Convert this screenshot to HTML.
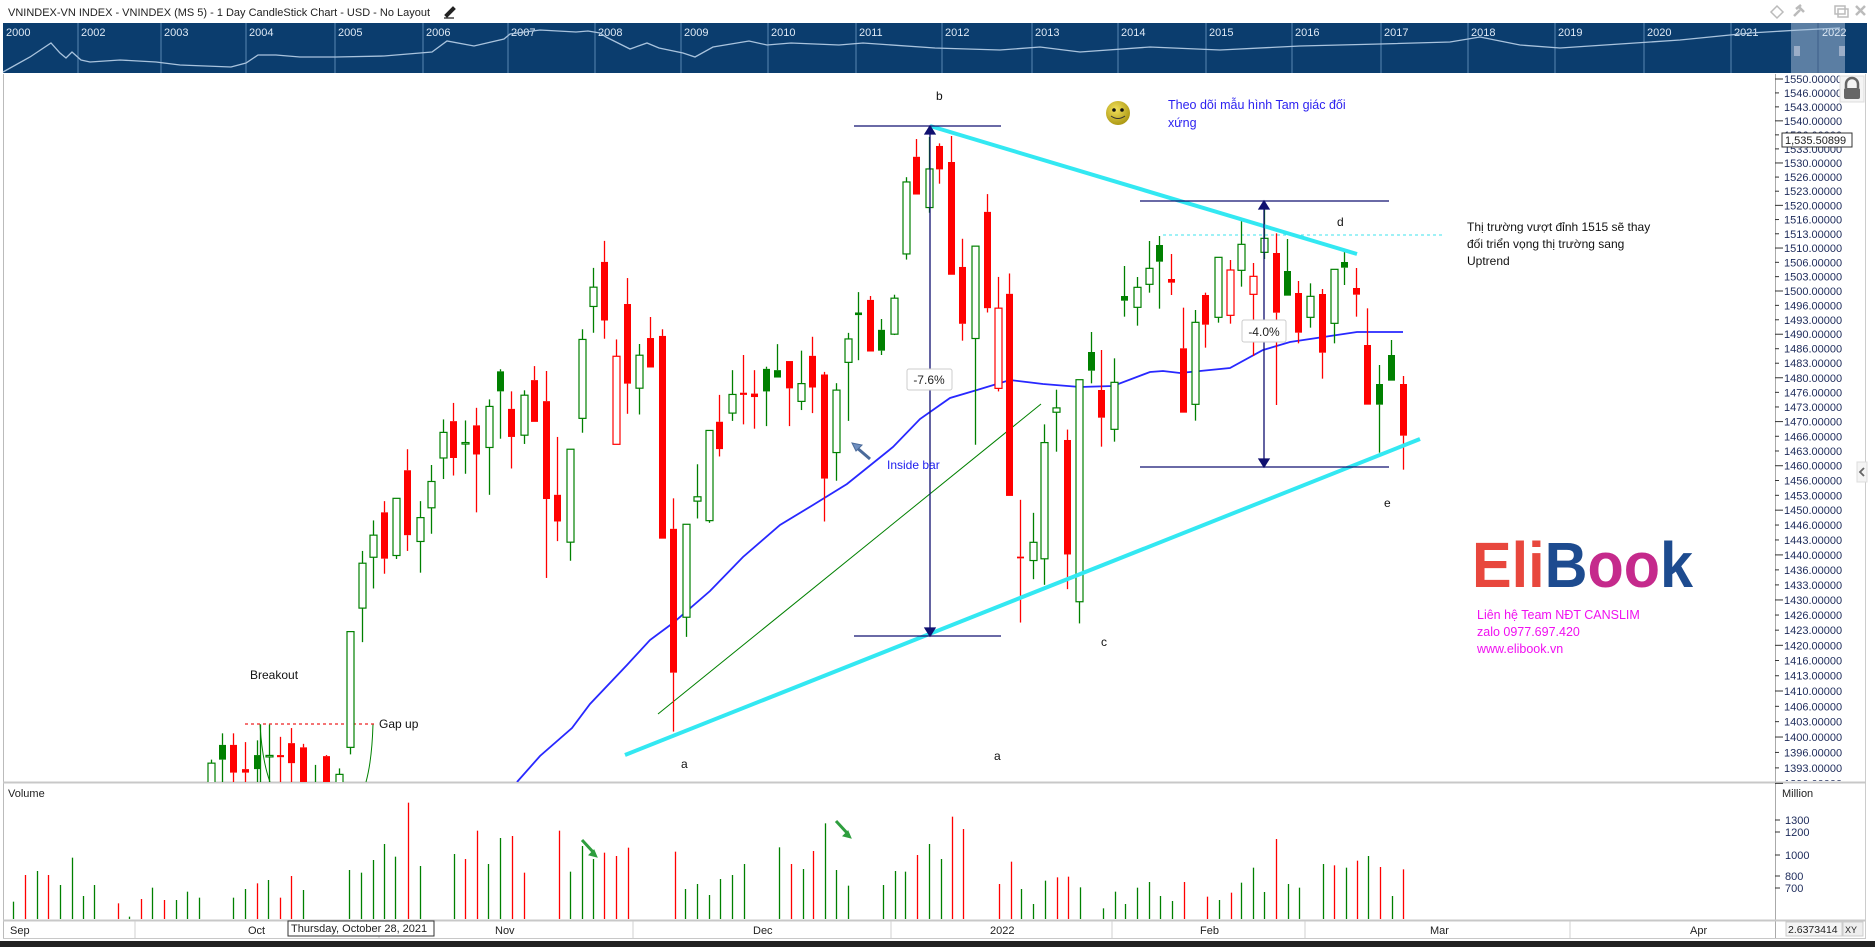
<!DOCTYPE html>
<html><head><meta charset="utf-8">
<style>
html,body{margin:0;padding:0;background:#fff;overflow:hidden}
svg{display:block;font-family:"Liberation Sans","Noto Sans CJK SC",sans-serif}
</style></head><body>
<svg id="s" width="1875" height="947" viewBox="0 0 1875 947" xmlns="http://www.w3.org/2000/svg">
<defs>
<clipPath id="cp"><rect x="4" y="75" width="1771" height="707"/></clipPath>
<radialGradient id="sm" cx="0.4" cy="0.35" r="0.7"><stop offset="0" stop-color="#f2e05a"/><stop offset="1" stop-color="#a89410"/></radialGradient>
</defs>
<rect width="1875" height="947" fill="#fff"/>
<!-- title -->
<text x="8" y="16" font-size="11" fill="#222" textLength="422" lengthAdjust="spacingAndGlyphs">VNINDEX-VN INDEX - VNINDEX (MS 5) - 1 Day CandleStick Chart - USD - No Layout</text>
<path d="M445 15 l8 -8 l2 2 l-8 8 z M444 18 h10" stroke="#222" stroke-width="1.2" fill="#222"/>
<!-- top right icons -->
<g stroke="#bbb" stroke-width="1.5" fill="none">
<path d="M1777 6 l6 6 l-6 6 l-6 -6 z"/>
<path d="M1794 16 l6 -6 M1798 6 l6 6 M1796 9 l5 -4" stroke-width="2.5"/>
<rect x="1835" y="6" width="10" height="8"/><rect x="1838" y="9" width="10" height="8"/>
<path d="M1856 6 l9 9 M1865 6 l-9 9" stroke-width="2.5"/>
</g>
<!-- navigator -->
<rect x="3" y="23" width="1864" height="50" fill="#0b3d6e"/>
<rect x="1791" y="23" width="54" height="50" fill="#5b7ea3"/>
<line x1="1818" y1="23" x2="1818" y2="73" stroke="#3c5f88" stroke-width="1"/>
<g stroke="#5a86b3" stroke-width="1">
<line x1="78" y1="23" x2="78" y2="73"/><line x1="161" y1="23" x2="161" y2="73"/><line x1="246" y1="23" x2="246" y2="73"/><line x1="335" y1="23" x2="335" y2="73"/><line x1="423" y1="23" x2="423" y2="73"/><line x1="508" y1="23" x2="508" y2="73"/><line x1="595" y1="23" x2="595" y2="73"/><line x1="681" y1="23" x2="681" y2="73"/><line x1="768" y1="23" x2="768" y2="73"/><line x1="856" y1="23" x2="856" y2="73"/><line x1="942" y1="23" x2="942" y2="73"/><line x1="1032" y1="23" x2="1032" y2="73"/><line x1="1118" y1="23" x2="1118" y2="73"/><line x1="1206" y1="23" x2="1206" y2="73"/><line x1="1292" y1="23" x2="1292" y2="73"/><line x1="1381" y1="23" x2="1381" y2="73"/><line x1="1468" y1="23" x2="1468" y2="73"/><line x1="1555" y1="23" x2="1555" y2="73"/><line x1="1644" y1="23" x2="1644" y2="73"/><line x1="1731" y1="23" x2="1731" y2="73"/>
</g>
<g fill="#dde8f4" font-size="11">
<text x="6" y="36">2000</text><text x="81" y="36">2002</text><text x="164" y="36">2003</text><text x="249" y="36">2004</text><text x="338" y="36">2005</text><text x="426" y="36">2006</text><text x="511" y="36">2007</text><text x="598" y="36">2008</text><text x="684" y="36">2009</text><text x="771" y="36">2010</text><text x="859" y="36">2011</text><text x="945" y="36">2012</text><text x="1035" y="36">2013</text><text x="1121" y="36">2014</text><text x="1209" y="36">2015</text><text x="1295" y="36">2016</text><text x="1384" y="36">2017</text><text x="1471" y="36">2018</text><text x="1558" y="36">2019</text><text x="1647" y="36">2020</text><text x="1734" y="36">2021</text><text x="1822" y="36">2022</text>
</g>
<polyline fill="none" stroke="#a9c3dd" stroke-width="1.3" points="3,72 30,57 51,43 60,53 66,58 72,52 81,60 90,62 120,60 156,62 180,65 231,67 246,63 258,55 276,55 300,57 336,57 384,56 420,53 432,52 447,41 474,46 504,39 510,34 540,30 576,32 588,31 600,33 606,37 630,49 647,43 659,48 683,53 695,57 713,47 749,41 767,45 791,43 839,45 863,43 935,48 1000,50 1040,47 1080,52 1150,47 1220,50 1300,46 1380,44 1450,42 1480,37 1520,45 1560,48 1620,44 1680,40 1720,36 1750,33 1800,30 1840,28"/>
<g stroke="#dde" stroke-width="1"><path d="M1795 46 v10 M1797 46 v10 M1799 46 v10 M1840 46 v10 M1842 46 v10 M1844 46 v10"/></g>

<!-- frame -->
<line x1="3.5" y1="74" x2="3.5" y2="938" stroke="#bbb"/>
<line x1="1775.5" y1="74" x2="1775.5" y2="938" stroke="#aaa"/>
<line x1="1865.5" y1="74" x2="1865.5" y2="938" stroke="#ccc"/>
<line x1="3" y1="782.5" x2="1866" y2="782.5" stroke="#c8c8c8" stroke-width="2"/>
<line x1="3" y1="920.5" x2="1866" y2="920.5" stroke="#c8c8c8" stroke-width="2"/>
<line x1="3" y1="938.5" x2="1866" y2="938.5" stroke="#c8c8c8" stroke-width="1"/>
<rect x="0" y="941" width="1875" height="6" fill="#222"/>

<g id="plot" clip-path="url(#cp)">
<line x1="658" y1="714" x2="1041" y2="404" stroke="#008000" stroke-width="1"/>
<path d="M373 724 Q372 760 366 782" stroke="#008000" fill="none" stroke-width="1"/>
<path d="M260 724 Q262 760 270 782" stroke="#008000" fill="none" stroke-width="1"/>
<polyline id="ma" fill="none" stroke="#2828ff" stroke-width="1.8" points="517,782 540,756 572,728 590,704 627,665 650,640 673,623 710,591 743,557 780,525 813,505 847,484 893,447 920,419 950,398 977,390 1010,380 1043,384 1080,387 1113,386 1150,372 1163,371 1180,373 1230,368 1263,350 1290,342 1357,332 1403,332"/>
<line x1="245" y1="724" x2="377" y2="724" stroke="#ee2222" stroke-width="1.3" stroke-dasharray="3,3"/>
<line x1="1163" y1="235" x2="1445" y2="235" stroke="#3de3ee" stroke-width="1" stroke-dasharray="3,3"/>
<g id="candles"></g>
<line x1="930" y1="126" x2="1357" y2="254" stroke="#33e8f2" stroke-width="4"/>
<line x1="625" y1="755" x2="1420" y2="439" stroke="#33e8f2" stroke-width="4"/>
<g stroke="#101070" stroke-width="1.3" fill="#101070">
<line x1="854" y1="126" x2="1001" y2="126"/><line x1="854" y1="636" x2="1001" y2="636"/>
<line x1="930" y1="130" x2="930" y2="632"/>
<path d="M930 126 l-5 8 h10 z M930 636 l-5 -8 h10 z"/>
<line x1="1140" y1="201" x2="1389" y2="201"/><line x1="1140" y1="467" x2="1389" y2="467"/>
<line x1="1264" y1="205" x2="1264" y2="463"/>
<path d="M1264 201 l-5 8 h10 z M1264 467 l-5 -8 h10 z"/>
</g>
<rect x="907" y="369" width="45" height="21" fill="#fff" stroke="#ccc" rx="2"/>
<text x="929" y="384" font-size="12" text-anchor="middle" fill="#222">-7.6%</text>
<rect x="1242" y="320" width="44" height="22" fill="#fff" stroke="#ccc" rx="2"/>
<text x="1264" y="336" font-size="12" text-anchor="middle" fill="#222">-4.0%</text>
<path d="M870 459 L856 447" stroke="#4a6a9a" stroke-width="3"/>
<path d="M852 443 l10 2 l-6 6 z" fill="#6f8fc0" stroke="#4a6a9a"/>
</g>

<g font-size="12" fill="#111">
<text x="936" y="100">b</text>
<text x="681" y="768">a</text>
<text x="994" y="760">a</text>
<text x="1101" y="646">c</text>
<text x="1337" y="226">d</text>
<text x="1384" y="507">e</text>
<text x="250" y="679">Breakout</text>
<text x="379" y="728">Gap up</text>
</g>
<text x="887" y="469" font-size="12" fill="#2020ee">Inside bar</text>
<circle cx="1118" cy="113" r="12" fill="url(#sm)"/>
<circle cx="1114" cy="110" r="1.8" fill="#111"/><circle cx="1122" cy="110" r="1.8" fill="#111"/>
<path d="M1111 116 q7 5 14 0" stroke="#333" fill="none" stroke-width="1"/>
<g font-size="12.5" fill="#2a1ff0">
<text x="1168" y="109">Theo dõi mẫu hình Tam giác đối</text>
<text x="1168" y="127">xứng</text>
</g>
<g font-size="12" fill="#111">
<text x="1467" y="231">Thị trường vượt đỉnh 1515 sẽ thay</text>
<text x="1467" y="248">đối triển vọng thị trường sang</text>
<text x="1467" y="265">Uptrend</text>
</g>
<text x="1472" y="587" font-size="64" font-weight="bold" textLength="221" lengthAdjust="spacingAndGlyphs"><tspan fill="#e8473d">Eli</tspan><tspan fill="#1d4b8f">B</tspan><tspan fill="#c52a8c">oo</tspan><tspan fill="#1d4b8f">k</tspan></text>
<g font-size="12.5" fill="#f010f0">
<text x="1477" y="619">Liên hệ Team NĐT CANSLIM</text>
<text x="1477" y="636">zalo 0977.697.420</text>
<text x="1477" y="653">www.elibook.vn</text>
</g>

<g id="ptk" stroke="#333" stroke-width="1"></g>
<g id="pl" font-size="11" fill="#1c2a5a">
<text>1550.00000</text><text>1546.00000</text><text>1543.00000</text><text>1540.00000</text><text>1536.00000</text><text>1533.00000</text><text>1530.00000</text><text>1526.00000</text><text>1523.00000</text><text>1520.00000</text><text>1516.00000</text><text>1513.00000</text><text>1510.00000</text><text>1506.00000</text><text>1503.00000</text><text>1500.00000</text><text>1496.00000</text><text>1493.00000</text><text>1490.00000</text><text>1486.00000</text><text>1483.00000</text><text>1480.00000</text><text>1476.00000</text><text>1473.00000</text><text>1470.00000</text><text>1466.00000</text><text>1463.00000</text><text>1460.00000</text><text>1456.00000</text><text>1453.00000</text><text>1450.00000</text><text>1446.00000</text><text>1443.00000</text><text>1440.00000</text><text>1436.00000</text><text>1433.00000</text><text>1430.00000</text><text>1426.00000</text><text>1423.00000</text><text>1420.00000</text><text>1416.00000</text><text>1413.00000</text><text>1410.00000</text><text>1406.00000</text><text>1403.00000</text><text>1400.00000</text><text>1396.00000</text><text>1393.00000</text><text>1390.00000</text>
</g>
<rect x="1782" y="133" width="70" height="14" fill="#fff" stroke="#333"/>
<text x="1785" y="144" font-size="11" fill="#222">1,535.50899</text>
<rect x="1840" y="76" width="24" height="26" fill="#f4f4f4" stroke="#ddd"/>
<path d="M1846 88 v-4 a6 6 0 0 1 12 0 v4" stroke="#666" stroke-width="2.5" fill="none"/>
<rect x="1844" y="88" width="16" height="11" rx="2" fill="#666"/>
<rect x="1857" y="462" width="10" height="20" fill="#f4f4f4" stroke="#ddd"/>
<path d="M1864 468 l-4 4 l4 4" stroke="#666" stroke-width="1.8" fill="none"/>

<text x="8" y="797" font-size="11" fill="#222">Volume</text>
<text x="1782" y="797" font-size="11" fill="#222">Million</text>
<g stroke="#333"><line x1="1775" y1="820" x2="1780" y2="820"/><line x1="1775" y1="832" x2="1780" y2="832"/><line x1="1775" y1="855" x2="1780" y2="855"/><line x1="1775" y1="876" x2="1780" y2="876"/><line x1="1775" y1="888" x2="1780" y2="888"/></g>
<g font-size="11" fill="#1c2a5a">
<text x="1785" y="824">1300</text><text x="1785" y="836">1200</text><text x="1785" y="859">1000</text><text x="1785" y="880">800</text><text x="1785" y="892">700</text>
</g>
<g id="vol"></g>
<path d="M582 840 l12 13" stroke="#2e9e3e" stroke-width="3"/><path d="M597 857 l-8 -2 l5 -5 z" fill="#2e9e3e" stroke="#2e9e3e"/>
<path d="M836 821 l12 13" stroke="#2e9e3e" stroke-width="3"/><path d="M851 838 l-8 -2 l5 -5 z" fill="#2e9e3e" stroke="#2e9e3e"/>

<g stroke="#d0d0d0"><line x1="135" y1="921" x2="135" y2="938"/><line x1="379" y1="921" x2="379" y2="938"/><line x1="633" y1="921" x2="633" y2="938"/><line x1="891" y1="921" x2="891" y2="938"/><line x1="1112" y1="921" x2="1112" y2="938"/><line x1="1305" y1="921" x2="1305" y2="938"/><line x1="1570" y1="921" x2="1570" y2="938"/></g>
<g font-size="11" fill="#222">
<text x="10" y="934">Sep</text><text x="248" y="934">Oct</text><text x="495" y="934">Nov</text><text x="753" y="934">Dec</text><text x="990" y="934">2022</text><text x="1200" y="934">Feb</text><text x="1430" y="934">Mar</text><text x="1690" y="934">Apr</text>
</g>
<rect x="288" y="921" width="146" height="15" fill="#fff" stroke="#333"/>
<text x="291" y="932" font-size="11" fill="#222">Thursday, October 28, 2021</text>
<rect x="1786" y="922" width="56" height="14" fill="#f4f4f4" stroke="#ccc"/>
<text x="1788" y="933" font-size="10.5" fill="#222">2.6373414</text>
<rect x="1843" y="922" width="20" height="14" fill="#eee" stroke="#ccc"/>
<text x="1845" y="933" font-size="9" fill="#222">XY</text>
</svg>
<script>
(function(){
var NS="http://www.w3.org/2000/svg";
function el(p,n,a){var e=document.createElementNS(NS,n);for(var k in a)e.setAttribute(k,a[k]);p.appendChild(e);return e;}
var groups=[
 {ox:190,oy:230,sx:3,sy:2.851,d:[[62,1510,1700,1520,1700,'g'],[97,1435,1700,1468,1510,'G'],[130,1435,1700,1468,1547,'r'],[166,1460,1700,1537,1547,'r'],[202,1455,1700,1497,1537,'G'],[210,1410,1700,1600,1700,'g'],[237,1410,1700,1498,1502,'g'],[271,1445,1700,1497,1503,'r'],[304,1420,1700,1463,1520,'r'],[340,1465,1700,1475,1700,'r'],[374,1525,1700,1600,1700,'g'],[409,1497,1700,1500,1700,'r'],[447,1535,1700,1552,1700,'g'],[480,1145,1495,1145,1475,'g'],[515,915,1175,950,1078,'g'],[548,828,1022,870,933,'g'],[583,773,980,805,937,'r'],[618,765,938,765,928,'g'],[652,625,915,685,870,'r'],[689,773,977,820,888,'g'],[722,670,866,717,792,'g'],[758,540,710,577,650,'g'],[790,493,700,545,650,'r'],[826,543,695,606,610,'g'],[859,507,805,557,640,'r'],[897,483,755,503,620,'g'],[931,397,595,403,460,'G'],[964,460,680,510,590,'r'],[1001,457,610,471,585,'g'],[1033,388,547,428,547,'r'],[1069,402,992,488,767,'r'],[1102,590,887,755,831,'r'],[1139,625,943,625,890,'g'],[1175,283,578,312,537,'g'],[1208,108,293,163,218,'g'],[1243,31,310,91,258,'r'],[1277,312,611,360,611,'R'],[1312,137,524,211,438,'r'],[1346,325,526,357,451,'g'],[1381,248,392,308,392,'r'],[1417,283,880,302,880,'r'],[1450,765,1430,852,1262,'r'],[1487,839,1160,839,1104,'g']]},
 {ox:640,oy:100,sx:3,sy:2.306,d:[[170,840,965,915,925,'g'],[206,762,975,762,970,'g'],[238,680,822,742,805,'r'],[275,623,740,679,722,'g'],[310,588,748,675,680,'r'],[343,623,758,677,685,'r'],[379,615,752,620,672,'G'],[412,563,640,623,640,'G'],[448,602,752,602,665,'r'],[482,578,715,654,695,'g'],[517,546,722,590,663,'r'],[552,627,972,633,873,'r'],[588,653,878,669,813,'g'],[623,537,740,551,605,'g'],[655,443,600,490,496,'G'],[690,452,580,461,580,'r'],[724,505,588,530,578,'G'],[761,449,542,457,540,'g'],[797,178,368,189,355,'g'],[829,90,218,131,218,'r'],[866,85,260,159,248,'g'],[898,100,193,106,160,'r'],[934,83,403,143,403,'r'],[967,320,555,385,516,'r'],[1004,337,795,337,550,'g'],[1040,217,490,258,480,'r'],[1073,408,672,480,665,'R'],[1108,400,913,447,913,'r'],[1141,922,1205,1053,1057,'r'],[1179,952,1105,1020,1062,'g'],[1211,748,1118,790,1058,'g'],[1247,668,811,710,720,'g'],[1282,760,1128,784,1048,'r'],[1316,645,1207,645,1157,'g']]},
 {ox:1080,oy:180,sx:3,sy:3,d:[[32,456,610,516,572,'G'],[64,510,800,630,713,'r'],[101,535,785,607,748,'g'],[133,258,410,348,362,'G'],[170,291,437,322,382,'g'],[206,183,338,265,313,'g'],[238,168,386,195,245,'G'],[274,222,345,297,308,'r'],[308,383,698,505,698,'r'],[344,390,722,427,673,'g'],[376,338,503,345,434,'r'],[413,232,428,232,412,'g'],[450,240,431,270,406,'R'],[482,118,320,193,271,'g'],[518,249,528,289,343,'R'],[552,65,237,175,217,'g'],[587,160,675,219,398,'r'],[620,177,347,273,347,'G'],[655,303,490,339,458,'r'],[691,310,443,349,412,'g'],[725,327,596,342,518,'r'],[761,268,490,268,430,'g'],[793,213,315,246,263,'G'],[829,264,410,324,344,'r'],[862,385,674,495,674,'r'],[898,555,818,612,674,'G'],[934,480,602,525,602,'G'],[968,588,869,612,767,'r']]}
];
var cg=document.getElementById('candles');
groups.forEach(function(g){g.d.forEach(function(c){
 var x=g.ox+c[0]/g.sx, wt=g.oy+c[1]/g.sy, wb=g.oy+c[2]/g.sy, bt=g.oy+c[3]/g.sy, bb=g.oy+c[4]/g.sy;
 var t=c[5], col=(t=='g'||t=='G')?'#008000':'#ff0000', hollow=(t=='g'||t=='R');
 x=Math.round(x)+0.5; if(bb-bt<1.5){bb=bt+1.5;}
 el(cg,'line',{x1:x,y1:wt,x2:x,y2:bt,stroke:col,'stroke-width':1.3});
 el(cg,'line',{x1:x,y1:bb,x2:x,y2:wb,stroke:col,'stroke-width':1.3});
 if(hollow) el(cg,'rect',{x:x-3.5,y:bt,width:7,height:bb-bt,fill:'#fff',stroke:col,'stroke-width':1.2});
 else el(cg,'rect',{x:x-3.5,y:bt,width:7,height:bb-bt,fill:col});
});});
var defs=document.querySelector('defs');var c=el(defs,'clipPath',{id:'cpa'});el(c,'rect',{x:1776,y:75,width:90,height:706});
var pl=document.getElementById('pl').children, tk=document.getElementById('ptk');
for(var k=0;k<pl.length;k++){
 var p=1550-k*10/3, y=79+6465*Math.log(1550/p);
 pl[k].setAttribute('x',1784); pl[k].setAttribute('y',(y+4).toFixed(1));
 if(y>775){pl[k].setAttribute('clip-path','url(#cpa)');}
 var long=(k%3==0);
 el(tk,'line',{x1:1775,y1:y,x2:long?1783:1779,y2:y});
}
var v=[[11,425,'g'],[21,345,'r'],[31,333,'g'],[40,345,'r'],[50,375,'g'],[60,293,'g'],[69,408,'g'],[79,375,'g'],[99,430,'r'],[108,470,'g'],[118,417,'r'],[127,383,'g'],[137,420,'r'],[147,420,'g'],[156,395,'g'],[166,413,'g'],[195,413,'g'],[205,387,'g'],[215,370,'r'],[224,360,'g'],[234,413,'r'],[243,348,'r'],[253,390,'g'],[292,330,'g'],[302,338,'g'],[312,300,'g'],[321,252,'g'],[330,290,'g'],[341,128,'r'],[351,318,'g'],[380,282,'g'],[389,297,'r'],[399,212,'r'],[408,312,'g'],[418,234,'g'],[428,228,'r'],[438,338,'r'],[467,212,'r'],[477,335,'g'],[487,258,'g'],[496,297,'g'],[505,278,'r'],[515,288,'r'],[525,263,'r'],[564,275,'r'],[573,387,'g'],[583,372,'g'],[593,405,'g'],[602,357,'g'],[612,345,'g'],[622,312,'g'],[651,262,'g'],[661,312,'r'],[671,327,'g'],[680,273,'r'],[690,190,'g'],[699,330,'g'],[709,377,'g'],[738,375,'g'],[748,333,'g'],[757,335,'g'],[767,285,'r'],[777,252,'g'],[787,297,'g'],[796,170,'r'],[805,207,'r'],[835,372,'r'],[845,305,'r'],[854,387,'g'],[864,432,'g'],[874,362,'g'],[884,352,'r'],[893,350,'r'],[903,382,'g'],[922,445,'g'],[932,395,'g'],[941,432,'g'],[951,383,'g'],[961,366,'g'],[970,408,'g'],[980,423,'g'],[990,366,'r'],[1009,410,'r'],[1019,420,'g'],[1029,398,'r'],[1038,368,'g'],[1048,323,'g'],[1057,396,'g'],[1067,237,'r'],[1077,372,'g'],[1086,383,'g'],[1106,312,'g'],[1115,316,'r'],[1125,323,'g'],[1135,302,'r'],[1144,288,'g'],[1154,321,'r'],[1164,408,'g'],[1173,328,'r']];
var vg=document.getElementById('vol');
v.forEach(function(b){var x=Math.round(b[0]*1.196)+0.5;el(vg,'line',{x1:x,y1:760+b[1]/3,x2:x,y2:919,stroke:b[2]=='g'?'#008000':'#ff0000','stroke-width':1.3});});
})();
</script>
</body></html>
